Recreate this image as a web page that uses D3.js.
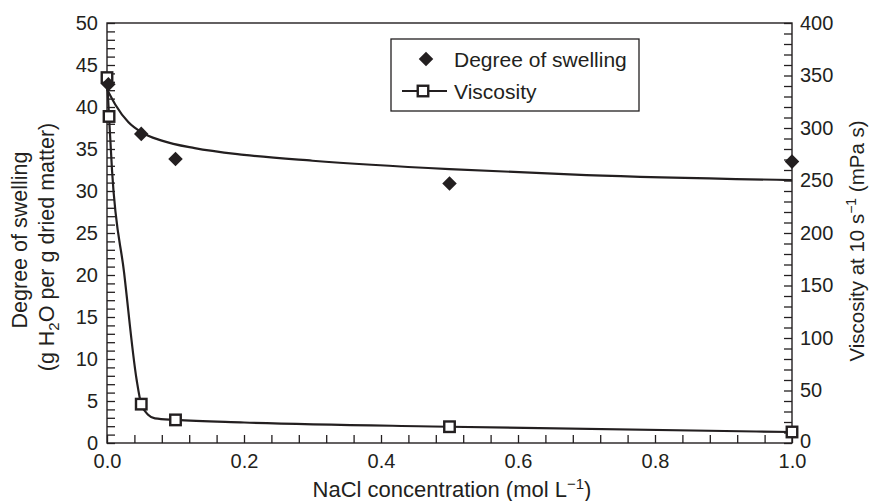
<!DOCTYPE html>
<html>
<head>
<meta charset="utf-8">
<script src="https://cdn.jsdelivr.net/npm/d3@7"></script>
<style>
  body { margin: 0; background: #fff; }
  svg { display: block; }
  text { font-family: "Liberation Sans", Arial, Helvetica, sans-serif; fill: #231f20; }
</style>
</head>
<body>
<svg id="chart" width="869" height="501"></svg>
<script>
// ---- data ----
const swellConc = [0.002, 0.05, 0.1, 0.5, 1.0];
const swelling = [42.7, 36.8, 33.8, 30.9, 33.5];
const viscConc = [0, 0.003, 0.05, 0.1, 0.5, 1.0];
const viscosity = [348, 311, 37, 22, 15.5, 10.5];
// fitted trend curves
const swellFitConc = [0, 0.012, 0.031, 0.05, 0.08, 0.128, 0.2, 0.3, 0.5, 0.7, 1.0];
const swellFit = [42.1, 40.3, 38.2, 37.0, 36.0, 35.1, 34.3, 33.6, 32.6, 31.9, 31.3];
const viscFitConc = [0, 0.003, 0.0073, 0.025, 0.0433, 0.05, 0.06, 0.07, 0.1, 0.2, 0.5, 1.0];
const viscFit = [348, 311, 260, 162, 60, 37, 27, 23.5, 22, 19.5, 15.5, 10.5];
// axis ticks
const xTicks = d3.range(0, 26).map(i => +(i * 0.04).toFixed(2));
const xLabels = [0, 0.2, 0.4, 0.6, 0.8, 1.0];
const yLeftTicks = d3.range(0, 51, 1);
const yLeftLabels = [0, 5, 10, 15, 20, 25, 30, 35, 40, 45, 50];
const yRightTicks = d3.range(0, 401, 10);
const yRightLabels = [0, 50, 100, 150, 200, 250, 300, 350, 400];

const svg = d3.select("#chart");
const L = 107, R = 792, T = 23, B = 443;
const ink = "#231f20";

const x = d3.scaleLinear().domain([0, 1]).range([L, R]);
const yL = d3.scaleLinear().domain([0, 50]).range([B, T]);
const yR = d3.scaleLinear().domain([0, 400]).range([B, T]);

const isLabel = (arr, v) => arr.some(a => Math.abs(a - v) < 1e-9);

// axes
const gx = svg.append("g").attr("transform", `translate(0,${B})`)
  .call(d3.axisBottom(x).tickValues(xTicks).tickSizeInner(-8).tickSizeOuter(0).tickPadding(11)
    .tickFormat(v => isLabel(xLabels, v) ? d3.format(".1f")(v) : ""));
const gl = svg.append("g").attr("transform", `translate(${L},0)`)
  .call(d3.axisLeft(yL).tickValues(yLeftTicks).tickSizeInner(-8).tickSizeOuter(0).tickPadding(9)
    .tickFormat(v => isLabel(yLeftLabels, v) ? String(v) : ""));
const gr = svg.append("g").attr("transform", `translate(${R},0)`)
  .call(d3.axisRight(yR).tickValues(yRightTicks).tickSizeInner(-8).tickSizeOuter(0).tickPadding(8)
    .tickFormat(v => isLabel(yRightLabels, v) ? String(v) : ""));
[gx, gl, gr].forEach(g => {
  g.select(".domain").remove();
  g.selectAll(".tick line").attr("stroke", ink).attr("stroke-width", 1.3);
  g.selectAll(".tick text").attr("font-size", 20).attr("fill", ink)
    .style("font-family", '"Liberation Sans", Arial, sans-serif');
});
gr.selectAll(".tick text").filter(d => d === 0).attr("dy", "0.2em");

// frame
svg.append("rect").attr("x", L).attr("y", T).attr("width", R - L).attr("height", B - T)
  .attr("fill", "none").attr("stroke", ink).attr("stroke-width", 1.4);

// fitted curves
const swellLine = d3.line().x((d, i) => x(swellFitConc[i])).y(d => yL(d)).curve(d3.curveMonotoneX);
const viscLine = d3.line().x((d, i) => x(viscFitConc[i])).y(d => yR(d)).curve(d3.curveMonotoneX);
svg.append("path").attr("d", swellLine(swellFit)).attr("fill", "none").attr("stroke", ink).attr("stroke-width", 2.2);
svg.append("path").attr("d", viscLine(viscFit)).attr("fill", "none").attr("stroke", ink).attr("stroke-width", 2.2);

// markers
const sq = 10.5;
svg.append("g").selectAll("rect").data(viscosity).join("rect")
  .attr("x", (d, i) => x(viscConc[i]) - sq / 2).attr("y", d => yR(d) - sq / 2)
  .attr("width", sq).attr("height", sq)
  .attr("fill", "#fff").attr("stroke", ink).attr("stroke-width", 2.4);
const diamond = d3.symbol().type(d3.symbolDiamond2).size(135);
svg.append("g").selectAll("path").data(swelling).join("path")
  .attr("d", diamond)
  .attr("transform", (d, i) => `translate(${x(swellConc[i])},${yL(d)})`)
  .attr("fill", ink);

// legend
const lg = svg.append("g");
lg.append("rect").attr("x", 391).attr("y", 39).attr("width", 248).attr("height", 72)
  .attr("fill", "#fff").attr("stroke", ink).attr("stroke-width", 1.3);
lg.append("path").attr("d", diamond).attr("transform", "translate(426,59)").attr("fill", ink);
lg.append("text").attr("x", 454).attr("y", 66.5).attr("font-size", 21).text("Degree of swelling");
lg.append("line").attr("x1", 402).attr("x2", 447).attr("y1", 91).attr("y2", 91).attr("stroke", ink).attr("stroke-width", 2);
lg.append("rect").attr("x", 423 - sq / 2).attr("y", 91 - sq / 2).attr("width", sq).attr("height", sq)
  .attr("fill", "#fff").attr("stroke", ink).attr("stroke-width", 2.4);
lg.append("text").attr("x", 454).attr("y", 98.5).attr("font-size", 21).text("Viscosity");

// axis titles
const xt = svg.append("text").attr("x", 452).attr("y", 497).attr("text-anchor", "middle").attr("font-size", 22);
xt.append("tspan").text("NaCl concentration (mol L");
xt.append("tspan").attr("font-size", 15).attr("dy", -8).text("\u22121");
xt.append("tspan").attr("dy", 8).text(")");

const yt = svg.append("text").attr("transform", "translate(27,240) rotate(-90)").attr("text-anchor", "middle").attr("font-size", 21.5);
yt.append("tspan").attr("x", 0).attr("y", 0).text("Degree of swelling");
const yt2 = svg.append("text").attr("transform", "translate(54,247) rotate(-90)").attr("text-anchor", "middle").attr("font-size", 21.5);
yt2.append("tspan").text("(g H");
yt2.append("tspan").attr("font-size", 15).attr("dy", 5).text("2");
yt2.append("tspan").attr("dy", -5).text("O per g dried matter)");

const rt = svg.append("text").attr("transform", "translate(864,241) rotate(-90)").attr("text-anchor", "middle").attr("font-size", 20.5);
rt.append("tspan").text("Viscosity at 10 s");
rt.append("tspan").attr("font-size", 14).attr("dy", -8).text("\u22121");
rt.append("tspan").attr("dy", 8).text(" (mPa s)");
</script>
</body>
</html>
